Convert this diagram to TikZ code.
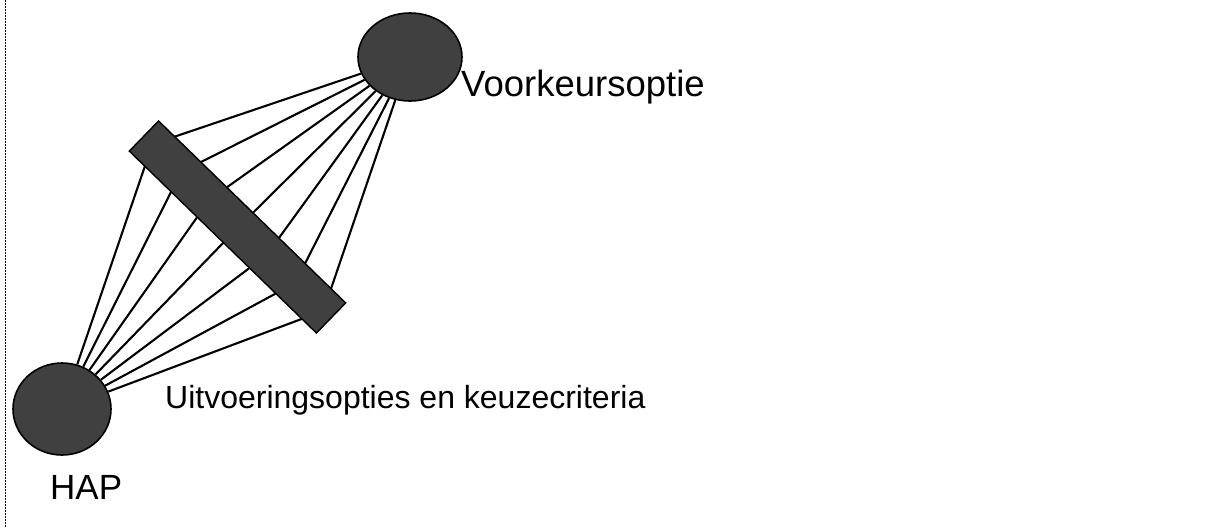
\documentclass[tikz,border=0pt]{standalone}
\usepackage{fontspec}
\setmainfont{Liberation Sans}
\usetikzlibrary{shapes.geometric, calc}
\definecolor{darkfill}{HTML}{404040}

\begin{document}
\begin{tikzpicture}[
        x=1pt, y=-1pt,
        blob/.style={ellipse, draw, line width=1.6pt, fill=darkfill, inner sep=0pt},
        plank/.style={rectangle, draw, line width=1.4pt, fill=darkfill, inner sep=0pt,
                      minimum width=261pt, minimum height=42pt},
        link/.style={line width=2.1pt},
        lbl/.style={anchor=base west, inner sep=0pt}
    ]
        \useasboundingbox (0,0) rectangle (1221,528);
        \draw[line width=1.5pt, dash pattern=on 1.5pt off 1.5pt] (5.5,0) -- (5.5,528);

        \node[blob, minimum width=98pt, minimum height=92pt]  (hap)  at (62,409) {};
        \node[blob, minimum width=104pt, minimum height=88pt] (pref) at (410,57) {};

        % ends of the plank
        \coordinate (plankA) at (144,136);
        \coordinate (plankB) at (331,318);

        % every option runs from HAP through the plank to the preferred option
        \foreach \t in {0.045,0.198,0.350,0.503,0.655,0.808,0.960}
            \draw[link] (hap) -- ($(plankA)!\t!(plankB)$) -- (pref);

        \node[plank, rotate=-44.2] (plank) at ($(plankA)!0.5!(plankB)$) {};

        \node[lbl, font=\fontsize{35}{40}\selectfont] (hap-text)  at (50,499) {HAP};
        \node[lbl, font=\fontsize{36.5}{40}\selectfont] (pref-text) at (461,96) {Voorkeursoptie};
        \node[lbl, font=\fontsize{32}{38}\selectfont] (plank-text) at (165,408) {Uitvoeringsopties en keuzecriteria};
\end{tikzpicture}
\end{document}
